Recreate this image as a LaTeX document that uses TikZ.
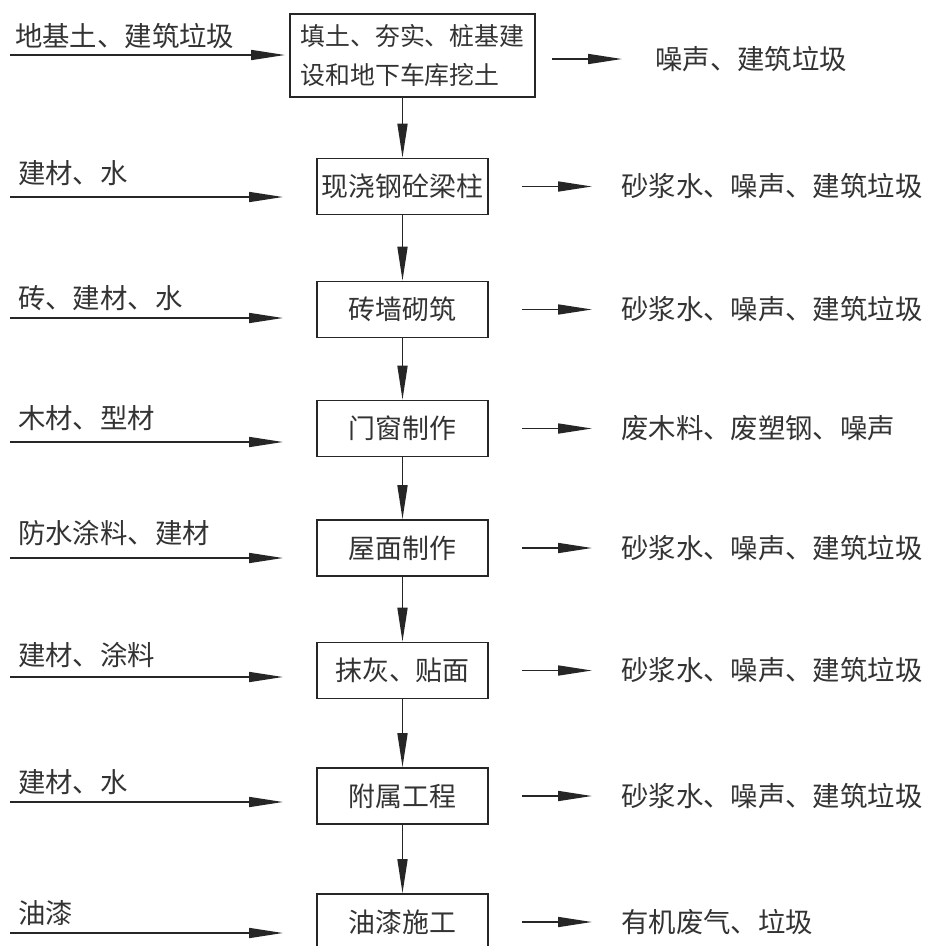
\documentclass[tikz,border=0pt]{standalone}
\usepackage{fontspec}
\newfontfamily\cjk{Noto Sans CJK SC}
\usetikzlibrary{arrows.meta}
\begin{document}
\begin{tikzpicture}[x=1bp,y=-1bp,
  txt/.style={inner sep=0pt,text=black!80,font=\cjk\fontsize{27.5}{30}\selectfont},
  stepbox/.style={draw=black!85,line width=1.6bp,minimum width=171bp,minimum height=56bp,inner sep=0pt,text=black!80,font=\cjk\fontsize{27}{30}\selectfont},
  flow/.style={draw=black!85,line width=1.6bp,-{Triangle[length=34bp,width=10bp]}}]
\clip (0,0) rectangle (927,946);
\fill[white] (0,0) rectangle (927,946);

% process boxes
\node[stepbox,minimum width=245bp,minimum height=83bp,align=left,font=\cjk\fontsize{25}{39}\selectfont] (b1) at (412.5,55.5) {填土、夯实、桩基建\\设和地下车库挖土};
\node[stepbox] (b2) at (402.5,186.5) {现浇钢砼梁柱};
\node[stepbox] (b3) at (402.5,309.5) {砖墙砌筑};
\node[stepbox] (b4) at (402.5,428.5) {门窗制作};
\node[stepbox] (b5) at (402.5,548) {屋面制作};
\node[stepbox] (b6) at (402.5,670.5) {抹灰、贴面};
\node[stepbox] (b7) at (402.5,796) {附属工程};
\node[stepbox] (b8) at (402.5,922) {油漆施工};

% vertical flow
\draw[flow] (b2.north |- b1.south) -- (b2.north);
\draw[flow] (b2.south) -- (b3.north);
\draw[flow] (b3.south) -- (b4.north);
\draw[flow] (b4.south) -- (b5.north);
\draw[flow] (b5.south) -- (b6.north);
\draw[flow] (b6.south) -- (b7.north);
\draw[flow] (b7.south) -- (b8.north);

% inputs
\node[txt,anchor=west] (i1) at (15,36) {地基土、建筑垃圾};
\node[txt,anchor=west] (i2) at (18,173) {建材、水};
\node[txt,anchor=west] (i3) at (18,298) {砖、建材、水};
\node[txt,anchor=west] (i4) at (18,418) {木材、型材};
\node[txt,anchor=west] (i5) at (18,533) {防水涂料、建材};
\node[txt,anchor=west] (i6) at (18,655) {建材、涂料};
\node[txt,anchor=west] (i7) at (18,782) {建材、水};
\node[txt,anchor=west] (i8) at (18,913) {油漆};

\coordinate (is1) at (10,55);  \coordinate (ie1) at (285,55);
\coordinate (is2) at (10,197); \coordinate (ie2) at (283,197);
\coordinate (is3) at (10,318); \coordinate (ie3) at (283,318);
\coordinate (is4) at (10,442); \coordinate (ie4) at (283,442);
\coordinate (is5) at (10,558); \coordinate (ie5) at (283,558);
\coordinate (is6) at (10,677); \coordinate (ie6) at (283,677);
\coordinate (is7) at (10,802); \coordinate (ie7) at (283,802);
\coordinate (is8) at (10,933); \coordinate (ie8) at (283,933);
\foreach \k in {1,...,8} {\draw[flow] (is\k) -- (ie\k);}

% outputs
\coordinate (os1) at (552,59);    \coordinate (oe1) at (622,59);
\coordinate (os2) at (522,186.5); \coordinate (oe2) at (592,186.5);
\coordinate (os3) at (522,309.5); \coordinate (oe3) at (592,309.5);
\coordinate (os4) at (522,428.5); \coordinate (oe4) at (592,428.5);
\coordinate (os5) at (522,548);   \coordinate (oe5) at (592,548);
\coordinate (os6) at (522,670.5); \coordinate (oe6) at (592,670.5);
\coordinate (os7) at (522,796);   \coordinate (oe7) at (592,796);
\coordinate (os8) at (522,922);   \coordinate (oe8) at (592,922);
\foreach \k in {1,...,8} {\draw[flow] (os\k) -- (oe\k);}

\node[txt,anchor=west] (o1) at (655,59) {噪声、建筑垃圾};
\node[txt,anchor=west] (o2) at (621,186.5) {砂浆水、噪声、建筑垃圾};
\node[txt,anchor=west] (o3) at (621,309.5) {砂浆水、噪声、建筑垃圾};
\node[txt,anchor=west] (o4) at (621,428.5) {废木料、废塑钢、噪声};
\node[txt,anchor=west] (o5) at (621,548) {砂浆水、噪声、建筑垃圾};
\node[txt,anchor=west] (o6) at (621,670.5) {砂浆水、噪声、建筑垃圾};
\node[txt,anchor=west] (o7) at (621,796) {砂浆水、噪声、建筑垃圾};
\node[txt,anchor=west] (o8) at (621,922) {有机废气、垃圾};
\end{tikzpicture}
\end{document}
